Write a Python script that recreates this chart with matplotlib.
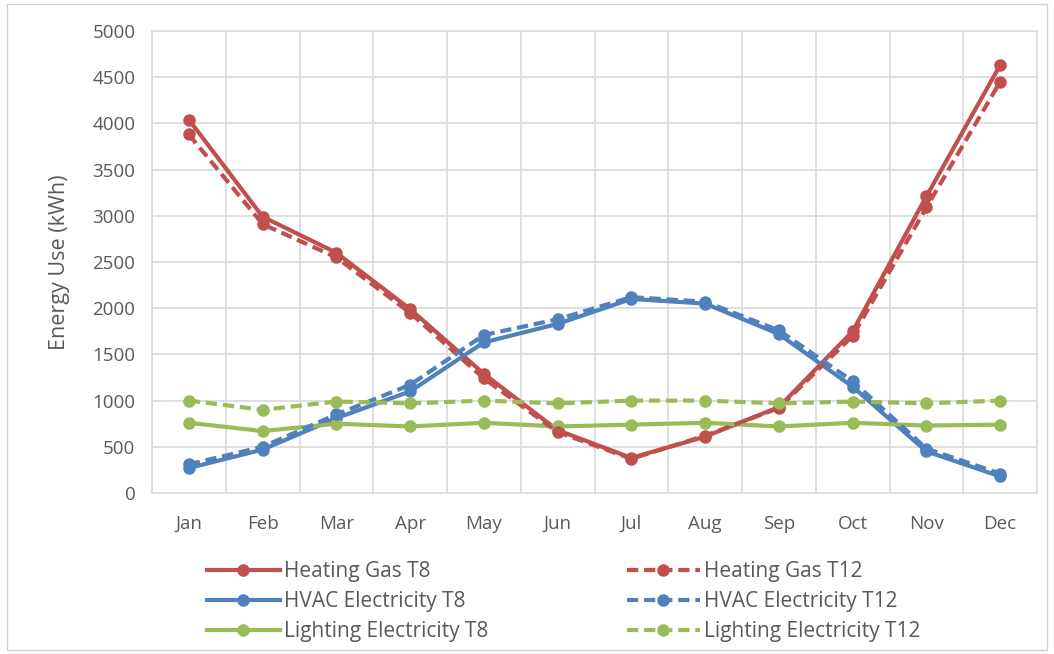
import matplotlib
matplotlib.use("Agg")
import matplotlib.pyplot as plt
from matplotlib.patches import Rectangle

months = ["Jan", "Feb", "Mar", "Apr", "May", "Jun", "Jul", "Aug", "Sep", "Oct", "Nov", "Dec"]

heating_gas_t8 = [4040, 2990, 2600, 1990, 1290, 680, 380, 610, 930, 1750, 3210, 4630]
heating_gas_t12 = [3880, 2910, 2550, 1950, 1240, 660, 370, 620, 920, 1700, 3090, 4450]
hvac_t8 = [270, 470, 810, 1100, 1630, 1830, 2100, 2050, 1720, 1150, 450, 180]
hvac_t12 = [310, 500, 850, 1170, 1710, 1880, 2120, 2070, 1760, 1210, 480, 210]
lighting_t8 = [760, 670, 750, 720, 760, 720, 740, 760, 720, 760, 730, 740]
lighting_t12 = [1000, 900, 990, 970, 1000, 970, 1000, 1000, 970, 990, 970, 1000]

yticks = list(range(0, 5001, 500))

RED = "#C0504D"
BLUE = "#4F81BD"
GREEN = "#9BBB59"
TEXT = "#595959"
GRID = "#D9D9D9"

plt.rcParams["font.family"] = ["Open Sans", "DejaVu Sans"]

fig = plt.figure(figsize=(10.54, 6.54), dpi=100)
ax = fig.add_axes([152 / 1054, 1 - 493 / 654, (1037 - 152) / 1054, (493 - 31) / 654])

x = list(range(len(months)))
lw = 3.0
ms = 8
dash = (0, (2.7, 1.4))

series = [
    (heating_gas_t8, RED, "-", "Heating Gas T8"),
    (hvac_t8, BLUE, "-", "HVAC Electricity T8"),
    (lighting_t8, GREEN, "-", "Lighting Electricity T8"),
    (heating_gas_t12, RED, dash, "Heating Gas T12"),
    (hvac_t12, BLUE, dash, "HVAC Electricity T12"),
    (lighting_t12, GREEN, dash, "Lighting Electricity T12"),
]

handles = []
for vals, col, ls, lab in series:
    (h,) = ax.plot(x, vals, color=col, linestyle=ls, linewidth=lw,
                   marker="o", markersize=ms, markerfacecolor=col,
                   markeredgecolor=col, label=lab, zorder=3)
    handles.append(h)

ax.set_xlim(-0.5, len(months) - 0.5)
ax.set_ylim(0, 5000)
ax.set_yticks(yticks)
ax.set_yticklabels([str(v) for v in yticks])
ax.set_xticks(x)
ax.set_xticklabels(months)
ax.set_xticks([i - 0.5 for i in range(len(months) + 1)], minor=True)

ax.grid(False)
ax.yaxis.grid(True, which="major", color=GRID, linewidth=1.2)
ax.xaxis.grid(True, which="minor", color=GRID, linewidth=1.2)
ax.tick_params(axis="both", which="both", length=0, colors=TEXT, labelsize=13.5)
ax.tick_params(axis="x", pad=16)
ax.tick_params(axis="y", pad=12)
for s in ax.spines.values():
    s.set_color(GRID)
    s.set_linewidth(1.2)

ax.set_ylabel("Energy Use (kWh)", color=TEXT, fontsize=15.5, labelpad=0)
ax.yaxis.set_label_coords(-82 / 885, 0.5)

leg_kw = dict(frameon=False, fontsize=15, handlelength=3.5, handletextpad=0.2,
              labelspacing=0.43, borderpad=0, labelcolor=TEXT, borderaxespad=0)
fig.legend(handles=handles[:3], loc="upper left",
           bbox_to_anchor=(207 / 1054, 1 - 561 / 654), **leg_kw)
fig.legend(handles=handles[3:], loc="upper left",
           bbox_to_anchor=(627 / 1054, 1 - 561 / 654), **leg_kw)

fig.patches.append(Rectangle((7 / 1054, 4 / 654), 1040 / 1054, 646 / 654,
                             transform=fig.transFigure, fill=False,
                             edgecolor="#D0D0D0", linewidth=1.0))

fig.savefig("out.png", dpi=100, facecolor="white")
